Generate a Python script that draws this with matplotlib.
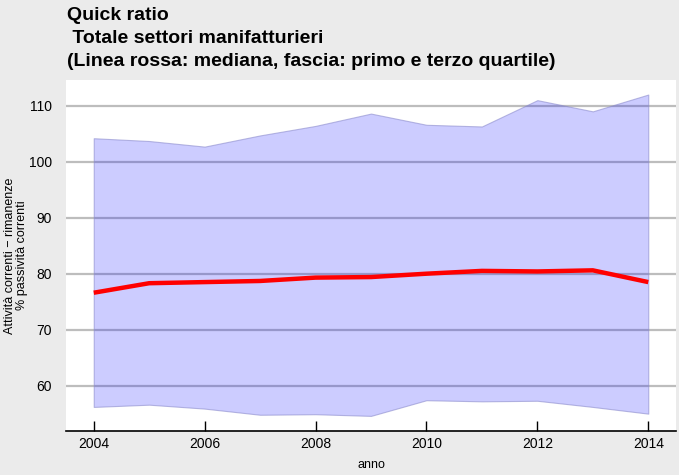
import matplotlib.pyplot as plt
import numpy as np

# quick ratio, totale settori manifatturieri
anni = [2004, 2005, 2006, 2007, 2008, 2009, 2010, 2011, 2012, 2013, 2014]
primo_quartile = [56.2, 56.6, 55.9, 54.8, 54.9, 54.6, 57.4, 57.2, 57.3, 56.2, 55.0]
mediana = [76.6, 78.3, 78.5, 78.7, 79.3, 79.4, 80.0, 80.5, 80.4, 80.6, 78.5]
terzo_quartile = [104.2, 103.7, 102.7, 104.7, 106.4, 108.6, 106.6, 106.3, 111.0, 109.0, 112.0]

xticks = [2004, 2006, 2008, 2010, 2012, 2014]
yticks = [60, 70, 80, 90, 100, 110]

plt.rcParams['font.family'] = ['Liberation Sans', 'DejaVu Sans']

fig = plt.figure(figsize=(6.79, 4.75), dpi=100, facecolor='#ebebeb')
ax = fig.add_axes([66 / 679, 44 / 475, 610 / 679, 351 / 475])
ax.set_facecolor('white')

for y in yticks:
    ax.axhline(y, color='#bdbdbd', lw=1.6, zorder=1)

ax.fill_between(anni, primo_quartile, terzo_quartile, facecolor=(0, 0, 1, 0.2),
                edgecolor=(0.55, 0.55, 0.8, 0.6), lw=0.8, zorder=2)
ax.plot(anni, mediana, color='#ff0000', lw=3.2, zorder=3, solid_capstyle='butt')

ax.set_xlim(2003.5, 2014.5)
ax.set_ylim(51.9, 114.6)
ax.set_xticks(xticks)
ax.set_yticks(yticks)

for s in ['top', 'right', 'left']:
    ax.spines[s].set_visible(False)
ax.spines['bottom'].set_linewidth(1.2)
ax.tick_params(axis='x', direction='in', length=7, width=1, labelsize=10, pad=4)
ax.tick_params(axis='y', length=0, labelsize=10, pad=10)

ax.set_xlabel('anno', fontsize=9, labelpad=6)
ax.set_ylabel('Attività correnti − rimanenze\n% passività correnti', fontsize=9,
              linespacing=1.0, va='center')
ax.yaxis.set_label_coords(-50 / 610, 0.5)

fig.text(67 / 679, 1 - 7 / 475, 'Quick ratio\n Totale settori manifatturieri\n'
         '(Linea rossa: mediana, fascia: primo e terzo quartile)',
         fontsize=14, fontweight='bold', va='top', ha='left', linespacing=1.45)

fig.savefig('out.png', dpi=100, facecolor=fig.get_facecolor())
